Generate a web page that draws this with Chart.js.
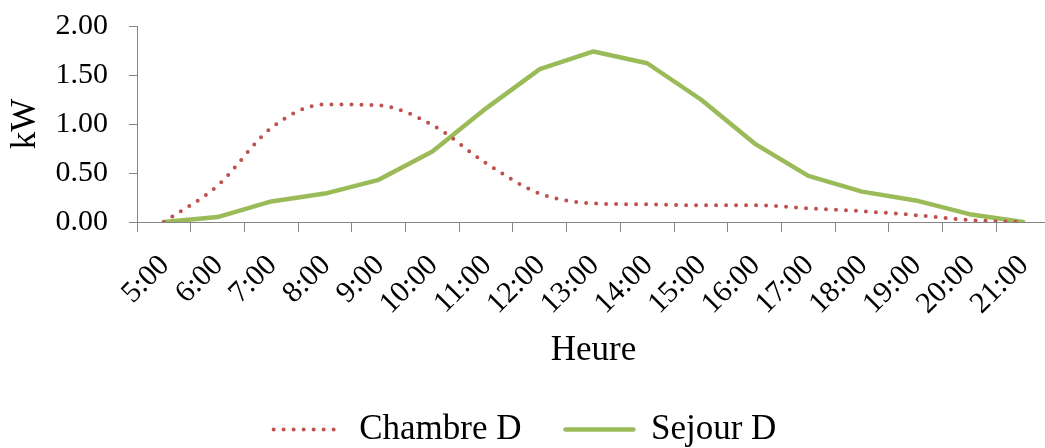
<!DOCTYPE html>
<html>
<head>
<meta charset="utf-8">
<script src="https://cdn.jsdelivr.net/npm/chart.js@4.4.1/dist/chart.umd.min.js"></script>
<style>
    html, body { margin: 0; padding: 0; background: #fff; overflow: hidden; }
    #wrap { width: 1052px; height: 448px; }
</style>
</head>
<body>
<div id="wrap"><canvas id="chart" width="1052" height="448"></canvas></div>
<script>
// Hourly load profile (kW)
const hours = ['5:00', '6:00', '7:00', '8:00', '9:00', '10:00', '11:00', '12:00', '13:00',
    '14:00', '15:00', '16:00', '17:00', '18:00', '19:00', '20:00', '21:00'];
const chambreD = [0.00, 0.37, 0.96, 1.20, 1.19, 0.99, 0.60, 0.29, 0.19, 0.18, 0.17, 0.17, 0.14, 0.11, 0.07, 0.02, 0.00];
const sejourD = [0.00, 0.05, 0.21, 0.29, 0.43, 0.72, 1.16, 1.56, 1.74, 1.62, 1.25, 0.80, 0.47, 0.31, 0.22, 0.08, 0.00];
const yTicks = [0, 0.5, 1, 1.5, 2];

const serif = 'Liberation Serif';
const axisGray = '#868686';

// legend samples take the dataset line style, not the point style
function legendLabels(chart) {
    const items = Chart.defaults.plugins.legend.labels.generateLabels(chart);
    items.forEach(item => {
        const ds = chart.data.datasets[item.datasetIndex];
        item.lineDash = ds.borderDash || [];
        item.lineCap = ds.borderCapStyle;
        item.lineWidth = ds.borderWidth;
        item.strokeStyle = ds.borderColor;
        item.fillStyle = 'rgba(0,0,0,0)';
    });
    return items;
}

const ctx = document.getElementById('chart').getContext('2d');
new Chart(ctx, {
    type: 'line',
    data: {
        labels: hours,
        datasets: [{
            label: 'Chambre D',
            data: chambreD,
            borderColor: '#C0504D',
            backgroundColor: '#C0504D',
            borderWidth: 4,
            borderDash: [0, 10],
            borderCapStyle: 'round',
            cubicInterpolationMode: 'monotone',
            pointRadius: 0,
            pointStyle: 'line'
        }, {
            label: 'Sejour D',
            data: sejourD,
            borderColor: '#9BBB59',
            backgroundColor: '#9BBB59',
            borderWidth: 4.5,
            borderCapStyle: 'round',
            borderJoinStyle: 'round',
            tension: 0,
            pointRadius: 0,
            pointStyle: 'line'
        }]
    },
    options: {
        responsive: false,
        animation: false,
        layout: { padding: { left: 0, top: 26, right: 2, bottom: 0 } },
        plugins: {
            tooltip: { enabled: false },
            legend: {
                position: 'bottom',
                maxHeight: 80,
                labels: {
                    usePointStyle: true,
                    pointStyleWidth: 68,
                    padding: 44,
                    color: '#000',
                    font: { family: serif, size: 35 },
                    generateLabels: legendLabels
                }
            }
        },
        scales: {
            x: {
                type: 'category',
                offset: true,
                grid: { offset: true, drawOnChartArea: false, drawTicks: true, tickLength: 10, color: axisGray },
                border: { display: true, color: axisGray, width: 1 },
                ticks: {
                    autoSkip: false,
                    maxRotation: 45,
                    minRotation: 45,
                    padding: 16,
                    labelOffset: 1,
                    color: '#000',
                    font: { family: serif, size: 30 }
                },
                title: {
                    display: true,
                    text: 'Heure',
                    color: '#000',
                    font: { family: serif, size: 35, lineHeight: 1 },
                    padding: { top: 0, bottom: 0 }
                },
                afterFit: (scale) => {
                    scale.height = 146;
                    scale.paddingLeft = 0;
                    scale.paddingRight = 0;
                }
            },
            y: {
                min: 0,
                max: 2,
                afterBuildTicks: (scale) => {
                    scale.ticks = yTicks.map(v => ({ value: v }));
                },
                grid: { drawOnChartArea: false, drawTicks: true, tickLength: 8, color: axisGray },
                border: { display: true, color: axisGray, width: 1 },
                ticks: {
                    padding: 21,
                    color: '#000',
                    font: { family: serif, size: 30 },
                    callback: (v) => Number(v).toFixed(2)
                },
                title: {
                    display: true,
                    text: 'kW',
                    color: '#000',
                    font: { family: serif, size: 35 },
                    padding: { top: 5, bottom: 0 }
                },
                afterFit: (scale) => {
                    scale.width = 137;
                    scale.paddingTop = 0;
                    scale.paddingBottom = 0;
                }
            }
        }
    }
});
</script>
</body>
</html>
